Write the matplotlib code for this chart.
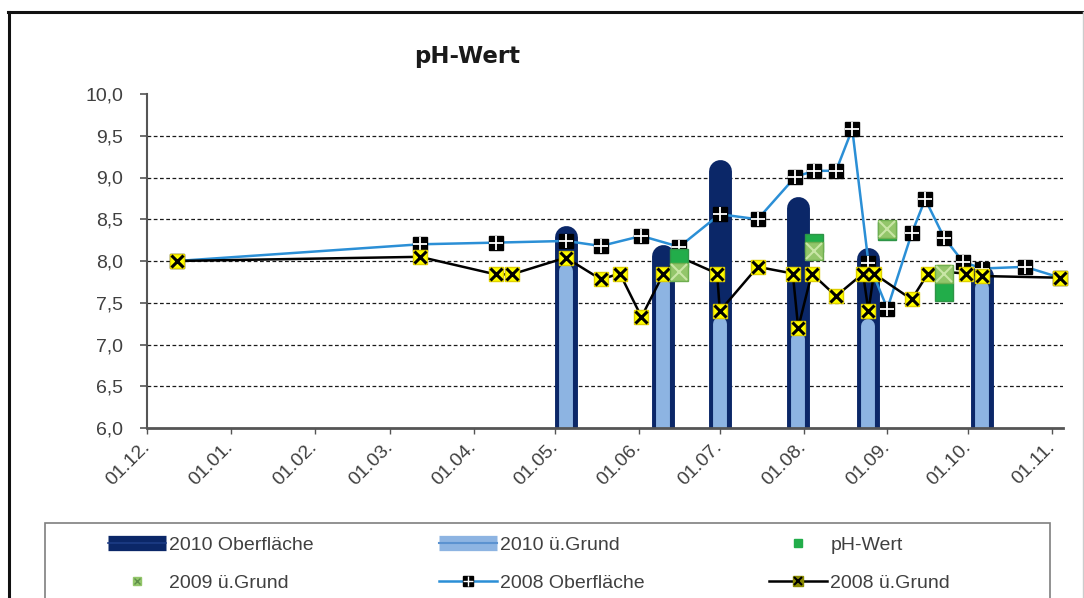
import datetime as dt
import matplotlib
matplotlib.use("Agg")
import matplotlib.pyplot as plt
import matplotlib.dates as mdates
from matplotlib.ticker import FuncFormatter, MultipleLocator
from matplotlib.legend_handler import HandlerTuple
from matplotlib.lines import Line2D
from matplotlib.patches import Rectangle

plt.rcParams["font.family"] = ["Liberation Sans", "DejaVu Sans"]

# ---- data (season runs from December to November) ----
bar_dates = ["05-05", "06-10", "07-01", "07-30", "08-25", "10-06"]
oberflaeche_2010 = [8.29, 8.06, 9.08, 8.63, 8.02, 7.82]
grund_2010 = [7.88, 7.73, 7.25, 7.06, 7.22, 7.68]

ph_dates = ["06-16", "08-05", "09-01", "09-22"]
ph_wert = [8.04, 8.22, 8.36, 7.63]
grund_2009 = [7.87, 8.12, 8.38, 7.84]

ob2008_dates = ["12-12", "03-12", "04-09", "05-05", "05-18", "06-02", "06-16",
                "07-01", "07-15", "07-29", "08-05", "08-13", "08-19", "08-25",
                "09-01", "09-10", "09-15", "09-22", "09-29", "10-06", "10-22",
                "11-04"]
oberflaeche_2008 = [8.00, 8.20, 8.22, 8.24, 8.18, 8.30, 8.17, 8.56, 8.50, 9.01,
                    9.08, 9.08, 9.58, 7.98, 7.43, 8.33, 8.74, 8.28, 7.99, 7.91,
                    7.93, 7.80]

gr2008_dates = ["12-12", "03-12", "04-09", "04-15", "05-05", "05-18", "05-25",
                "06-02", "06-10", "06-16", "06-30", "07-01", "07-15", "07-28",
                "07-30", "08-04", "08-13", "08-23", "08-25", "08-27", "09-10",
                "09-16", "09-22", "09-30", "10-06", "11-04"]
grund_2008 = [8.00, 8.05, 7.84, 7.84, 8.04, 7.78, 7.85, 7.33, 7.84, 8.05, 7.85,
              7.40, 7.93, 7.85, 7.20, 7.85, 7.58, 7.85, 7.40, 7.85, 7.54, 7.85,
              7.87, 7.85, 7.82, 7.80]

y_min, y_max, y_step = 6.0, 10.0, 0.5
x_start, x_end = "12-01", "11-05"

title = "pH-Wert"
labels = ["2010 Oberfläche", "2010 ü.Grund", "pH-Wert",
          "2009 ü.Grund", "2008 Oberfläche", "2008 ü.Grund"]


def to_date(s):
    m, d = map(int, s.split("-"))
    return dt.date(2009 if m == 12 else 2010, m, d)


def dates(lst):
    return [to_date(s) for s in lst]


# ---- colours ----
NAVY = "#0b2768"
LIGHT = "#8db4e2"
BLUE_LINE = "#2b8fd6"
GREEN = "#22ad4a"
GREEN_EDGE = "#2e9447"
LGREEN = "#93c66a"
YELLOW = "#ffff00"
TXT = "#404040"

W, H = 1084, 598
fig = plt.figure(figsize=(W / 100, H / 100), dpi=100)
ax = fig.add_axes([147 / W, 1 - 428 / H, (1063 - 147) / W, (428 - 94) / H])

# 2010 columns drawn as thick rounded strokes
ax.vlines(dates(bar_dates), y_min, oberflaeche_2010, colors=NAVY,
          linewidth=16.5, capstyle="round", zorder=2)
ax.vlines(dates(bar_dates), y_min, grund_2010, colors=LIGHT,
          linewidth=10, capstyle="round", zorder=2.1)

# 2008 surface
ax.plot(dates(ob2008_dates), oberflaeche_2008, color=BLUE_LINE, lw=1.8,
        marker="s", ms=9.5, mfc="black", mec="black", zorder=3, clip_on=False)
ax.plot(dates(ob2008_dates), oberflaeche_2008, ls="none", marker="+",
        ms=9.5, mew=1.3, mec="white", zorder=3.1, clip_on=False)

# 2008 bottom
ax.plot(dates(gr2008_dates), grund_2008, color="black", lw=1.8,
        marker="s", ms=10, mfc=YELLOW, mec="#e0d000", zorder=4, clip_on=False)
ax.plot(dates(gr2008_dates), grund_2008, ls="none", marker="x",
        ms=9, mew=2.2, mec="black", zorder=4.1, clip_on=False)

# 2009 bottom and pH values
ax.plot(dates(ph_dates), grund_2009, ls="none", marker="s", ms=13,
        mfc=LGREEN, mec="#6fae50", zorder=5)
ax.plot(dates(ph_dates), grund_2009, ls="none", marker="x", ms=11,
        mew=1.5, mec="#c9e6a6", zorder=5.1)
ax.plot(dates(ph_dates), ph_wert, ls="none", marker="s", ms=13,
        mfc=GREEN, mec=GREEN_EDGE, zorder=4.9)

# axes
ax.set_ylim(y_min, y_max)
ax.set_xlim(to_date(x_start), to_date(x_end))
ax.yaxis.set_major_locator(MultipleLocator(y_step))
ax.yaxis.set_major_formatter(FuncFormatter(lambda v, _: f"{v:.1f}".replace(".", ",")))
ax.xaxis.set_major_locator(mdates.MonthLocator(bymonthday=1))
ax.xaxis.set_major_formatter(mdates.DateFormatter("%d.%m."))

ax.yaxis.grid(True, color="#1a1a1a", lw=0.9, ls=(0, (3, 2)))
for gl, v in zip(ax.yaxis.get_gridlines(), ax.get_yticks()):
    if v >= y_max - 1e-9 or v <= y_min + 1e-9:
        gl.set_visible(False)
ax.set_axisbelow(True)

for s in ("top", "right"):
    ax.spines[s].set_visible(False)
ax.spines["left"].set_color("#555555")
ax.spines["bottom"].set_color("#555555")
ax.spines["left"].set_linewidth(1.5)
ax.spines["bottom"].set_linewidth(2)

ax.tick_params(axis="y", length=5, width=1.2, color="#555555", pad=12,
               labelsize=14, labelcolor=TXT)
ax.tick_params(axis="x", length=4, width=1, color="#555555", pad=8,
               labelsize=14, labelcolor=TXT)
for lab in ax.get_xticklabels():
    lab.set_rotation(45)
    lab.set_ha("right")
    lab.set_va("center")
    lab.set_rotation_mode("anchor")

# title
fig.text(467 / W, 1 - 57 / H, title, ha="center", va="center",
         fontsize=16.5, fontweight="bold", color="#1a1a1a",
         family=["DejaVu Sans"])

# outer frame
fig.add_artist(Line2D([8 / W, 1], [1 - 11.5 / H] * 2, color="#111111", lw=2.2,
                      transform=fig.transFigure))
fig.add_artist(Line2D([8.5 / W] * 2, [0, 1 - 11.5 / H], color="#111111", lw=2.2,
                      transform=fig.transFigure))
fig.add_artist(Line2D([1082.5 / W] * 2, [0, 1 - 12 / H], color="#cccccc", lw=1,
                      transform=fig.transFigure))

# legend frame
fig.add_artist(Rectangle((45 / W, -0.1), (1050 - 45) / W, 0.1 + (598 - 523) / H,
                         transform=fig.transFigure, fill=False,
                         edgecolor="#7f7f7f", lw=1.2))

h_ob10 = (Line2D([], [], color=NAVY, lw=11, solid_capstyle="butt"),
          Line2D([], [], color="#1d3c86", lw=1.2))
h_gr10 = (Line2D([], [], color=LIGHT, lw=11, solid_capstyle="butt"),
          Line2D([], [], color="#5b92d0", lw=1.5))
h_ph = Line2D([], [], ls="none", marker="s", ms=6, mfc=GREEN, mec=GREEN)
h_g09 = (Line2D([], [], ls="none", marker="s", ms=6, mfc=LGREEN, mec=LGREEN),
         Line2D([], [], ls="none", marker="x", ms=5, mew=1, mec="#5f8f4a"))
h_ob08 = (Line2D([], [], color=BLUE_LINE, lw=1.8, marker="s", ms=7, mfc="black",
                 mec="black"),
          Line2D([], [], ls="none", marker="+", ms=7, mew=1, mec="white"))
h_gr08 = (Line2D([], [], color="black", lw=1.8, marker="s", ms=7, mfc="#8a8a00",
                 mec="#8a8a00"),
          Line2D([], [], ls="none", marker="x", ms=6, mew=1.5, mec="black"))

handles = [h_ob10, h_gr10, h_ph, h_g09, h_ob08, h_gr08]
# matplotlib fills legend columns first; reorder so entries read row by row
order = [0, 3, 1, 4, 2, 5]
leg = fig.legend([handles[i] for i in order], [labels[i] for i in order],
                 ncol=3, mode="expand", loc="upper left",
                 bbox_to_anchor=(108 / W, 1 - 542 / H, (950 - 108) / W, 0.01),
                 bbox_transform=fig.transFigure, frameon=False, borderpad=0,
                 borderaxespad=0, handlelength=3.0, handletextpad=0.15,
                 labelspacing=1.05, fontsize=14,
                 handler_map={tuple: HandlerTuple(ndivide=1, pad=0)})
for t in leg.get_texts():
    t.set_color(TXT)

fig.savefig("out.png", dpi=100)
